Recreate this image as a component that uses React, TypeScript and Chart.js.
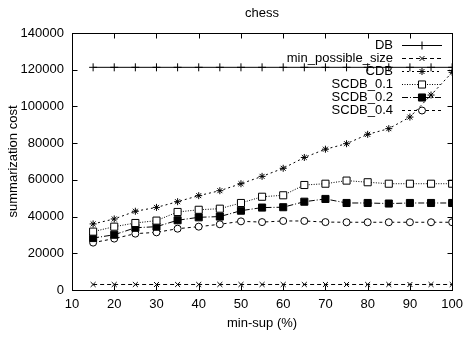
import { useEffect, useRef } from 'react';
import { Chart, registerables } from 'chart.js';

Chart.register(...registerables);

const minSup = [15, 20, 25, 30, 35, 40, 45, 50, 55, 60, 65, 70, 75, 80, 85, 90, 95, 100];
const dbCost = [121300, 121300, 121300, 121300, 121300, 121300, 121300, 121300, 121300, 121300, 121300, 121300, 121300, 121300, 121300, 121300, 121300, 121300];
const minPossible = [3000, 3000, 3000, 3000, 3000, 3000, 3000, 3000, 3000, 3000, 3000, 3000, 3000, 3000, 3000, 3000, 3000, 3000];
const cdb = [36000, 38700, 42900, 45000, 48100, 51400, 54100, 57900, 61900, 66300, 72200, 76700, 79700, 84800, 87900, 94200, 106200, 118600];
const scdb01 = [31800, 34500, 36500, 37800, 42500, 43700, 44300, 47400, 50800, 51600, 57200, 57900, 59600, 58700, 57900, 57900, 57900, 57900];
const scdb02 = [28300, 30100, 33900, 34500, 38000, 39600, 40000, 43200, 44900, 45100, 48100, 49600, 47400, 47400, 47100, 47400, 47400, 47400];
const scdb04 = [25800, 28000, 30700, 31400, 33400, 34500, 35800, 37400, 37000, 37600, 37600, 37000, 36900, 36900, 36900, 36900, 36900, 36900];

const xTicks = [10, 20, 30, 40, 50, 60, 70, 80, 90, 100];
const yTicks = [0, 20000, 40000, 60000, 80000, 100000, 120000, 140000];

const FONT = "'Liberation Sans', Arial, Helvetica, sans-serif";
const FS = 13;

type Series = {
  label: string;
  values: number[];
  dash: number[];
  style: string;
  radius: number;
  fill: string;
};

const series: Series[] = [
  { label: 'DB', values: dbCost, dash: [], style: 'cross', radius: 4, fill: '#000' },
  { label: 'min_possible_size', values: minPossible, dash: [4, 3], style: 'crossRot', radius: 3.5, fill: '#000' },
  { label: 'CDB', values: cdb, dash: [2, 3], style: 'star', radius: 3.5, fill: '#000' },
  { label: 'SCDB_0.1', values: scdb01, dash: [1, 1.5], style: 'rect', radius: 5, fill: '#fff' },
  { label: 'SCDB_0.2', values: scdb02, dash: [6, 2, 1, 2], style: 'rect', radius: 5, fill: '#000' },
  { label: 'SCDB_0.4', values: scdb04, dash: [3, 3], style: 'circle', radius: 3.5, fill: '#fff' },
];

function drawMarker(ctx: CanvasRenderingContext2D, style: string, r: number, fill: string, x: number, y: number) {
  ctx.save();
  ctx.setLineDash([]);
  ctx.strokeStyle = '#000';
  ctx.fillStyle = fill;
  ctx.lineWidth = 1;
  ctx.beginPath();
  if (style === 'cross' || style === 'star') {
    ctx.moveTo(x, y - r); ctx.lineTo(x, y + r);
    ctx.moveTo(x - r, y); ctx.lineTo(x + r, y);
  }
  if (style === 'crossRot' || style === 'star') {
    const d = r * Math.SQRT1_2;
    ctx.moveTo(x - d, y - d); ctx.lineTo(x + d, y + d);
    ctx.moveTo(x - d, y + d); ctx.lineTo(x + d, y - d);
  }
  if (style === 'rect') {
    const s = r * Math.SQRT1_2;
    ctx.rect(x - s, y - s, 2 * s, 2 * s);
    ctx.fill();
  }
  if (style === 'circle') {
    ctx.arc(x, y, r, 0, Math.PI * 2);
    ctx.fill();
  }
  ctx.stroke();
  ctx.restore();
}

const framePlugin = {
  id: 'gnuplotFrame',
  afterDatasetsDraw(chart: any) {
    const { ctx, chartArea } = chart;
    const { left, right, top, bottom } = chartArea;
    const xs = chart.scales.x;
    const ys = chart.scales.y;
    ctx.save();
    ctx.strokeStyle = '#000';
    ctx.lineWidth = 1;
    ctx.setLineDash([]);
    const L = Math.round(left) + 0.5;
    const R = Math.round(right) + 0.5;
    const T = Math.round(top) + 0.5;
    const B = Math.round(bottom) + 0.5;
    ctx.strokeRect(L, T, R - L, B - T);
    ctx.beginPath();
    for (const v of xTicks) {
      const px = Math.round(xs.getPixelForValue(v)) + 0.5;
      ctx.moveTo(px, B);
      ctx.lineTo(px, B - 5);
      ctx.moveTo(px, T);
      ctx.lineTo(px, T + 5);
    }
    for (const v of yTicks) {
      const py = Math.round(ys.getPixelForValue(v)) + 0.5;
      ctx.moveTo(L, py);
      ctx.lineTo(L + 5, py);
      ctx.moveTo(R, py);
      ctx.lineTo(R - 5, py);
    }
    ctx.stroke();

    // titles
    ctx.fillStyle = '#000';
    ctx.font = `${FS}px ${FONT}`;
    ctx.textAlign = 'center';
    ctx.textBaseline = 'middle';
    ctx.fillText('chess', (left + right) / 2, 13);
    ctx.fillText('min-sup (%)', (left + right) / 2, 323);
    ctx.save();
    ctx.translate(13, (top + bottom) / 2);
    ctx.rotate(-Math.PI / 2);
    ctx.fillText('summarization cost', 0, 0);
    ctx.restore();

    // legend
    const textRight = 393;
    const sx0 = 402;
    const sx1 = 442;
    const rowY = [45, 58, 71, 84, 97, 110];
    series.forEach((s, i) => {
      const y = Math.round(rowY[i]) + 0.5;
      ctx.fillStyle = '#000';
      ctx.textAlign = 'right';
      ctx.textBaseline = 'middle';
      ctx.fillText(s.label, textRight, y);
      ctx.beginPath();
      ctx.setLineDash(s.dash);
      ctx.moveTo(sx0, y);
      ctx.lineTo(sx1, y);
      ctx.stroke();
      ctx.setLineDash([]);
      drawMarker(ctx, s.style, s.radius, s.fill, (sx0 + sx1) / 2, y);
    });
    ctx.restore();
  },
};

export default function App() {
  const ref = useRef<HTMLCanvasElement | null>(null);
  useEffect(() => {
    if (!ref.current) return;
    const chart = new Chart(ref.current, {
      type: 'line',
      data: {
        datasets: series.map((s) => ({
          label: s.label,
          data: minSup.map((x, i) => ({ x, y: s.values[i] })),
          borderColor: '#000',
          borderWidth: 1,
          borderDash: s.dash,
          pointStyle: s.style as any,
          pointRadius: s.radius,
          pointBorderColor: '#000',
          pointBackgroundColor: s.fill,
          pointBorderWidth: 1,
          fill: false,
          tension: 0,
        })),
      },
      options: {
        responsive: false,
        animation: false,
        events: [],
        layout: { padding: { left: 0, right: 14, top: 33, bottom: 0 } },
        plugins: { legend: { display: false }, title: { display: false }, tooltip: { enabled: false } },
        scales: {
          x: {
            type: 'linear',
            min: 10,
            max: 100,
            afterFit: (scale: any) => { scale.height = 47; },
            afterBuildTicks: (scale: any) => { scale.ticks = xTicks.map((v) => ({ value: v })); },
            grid: { display: false, drawTicks: false },
            border: { display: false },
            ticks: { color: '#000', font: { family: FONT, size: FS }, padding: 7, maxRotation: 0, autoSkip: false },
          },
          y: {
            type: 'linear',
            min: 0,
            max: 140000,
            afterFit: (scale: any) => { scale.width = 72; },
            afterBuildTicks: (scale: any) => { scale.ticks = yTicks.map((v) => ({ value: v })); },
            grid: { display: false, drawTicks: false },
            border: { display: false },
            ticks: { color: '#000', font: { family: FONT, size: FS }, padding: 8, autoSkip: false, callback: (v: any) => String(v) },
          },
        },
      },
      plugins: [framePlugin],
    });
    return () => chart.destroy();
  }, []);
  return (
    <div style={{ position: 'fixed', left: 0, top: 0, width: 470, height: 337, background: '#fff' }}>
      <canvas ref={ref} width={470} height={337} style={{ width: 470, height: 337 }} />
    </div>
  );
}
